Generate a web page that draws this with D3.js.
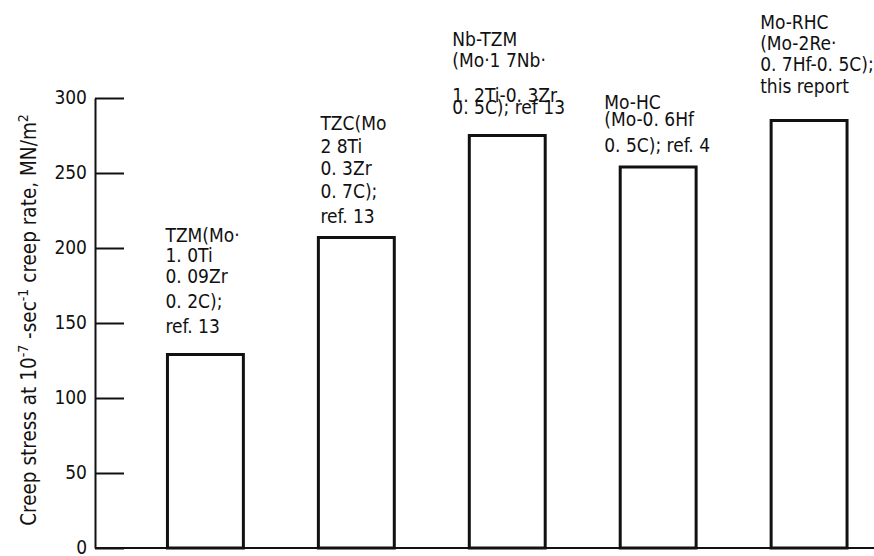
<!DOCTYPE html>
<html>
<head>
<meta charset="utf-8">
<script src="https://cdn.jsdelivr.net/npm/d3@7"></script>
<style>
  body { margin: 0; background: #fff; }
  text { font-family: "DejaVu Sans Condensed", "Liberation Sans Narrow", sans-serif; fill: #111; }
</style>
</head>
<body>
<script>
// alloys and creep stress (MN/m^2) at 10^-7 sec^-1
const alloys = ['TZM', 'TZC', 'Nb-TZM', 'Mo-HC', 'Mo-RHC'];
const stress = [129, 207, 275, 254, 285];
const yTicks = [0, 50, 100, 150, 200, 250, 300];
const labelText = [
  ['TZM(Mo·', '1. 0Ti', '0. 09Zr', '0. 2C);', 'ref. 13'],
  ['TZC(Mo', '2 8Ti', '0. 3Zr', '0. 7C);', 'ref. 13'],
  ['Nb-TZM', '(Mo·1 7Nb·', '1. 2Ti-0. 3Zr', '0. 5C); ref 13'],
  ['Mo-HC', '(Mo-0. 6Hf', '0. 5C); ref. 4'],
  ['Mo-RHC', '(Mo-2Re·', '0. 7Hf-0. 5C);', 'this report']
];

const width = 874;
const height = 556;

// label placement: dx from bar left, baseline offsets above bar top
const labelLayout = [
  { dx: -2, dy: [-113, -93, -72, -47, -22] },
  { dx: 2, dy: [-108, -85, -63, -40, -15] },
  { dx: -17, dy: [-90, -69, -34, -22] },
  { dx: -16, dy: [-58, -41, -15] },
  { dx: -11, dy: [-92, -71, -50, -28] }
];

const svg = d3.select('body')
  .append('svg')
  .attr('width', width)
  .attr('height', height);

const yScale = d3.scaleLinear()
  .domain([0, 300])
  .range([548, 98]);

const xScale = d3.scaleBand()
  .domain(alloys)
  .range([92, 92 + 151 * 5.5])
  .paddingInner(0.497)
  .paddingOuter(0.5);

// y axis, ticks pointing into the plot
const yAxis = d3.axisLeft(yScale)
  .tickValues(yTicks)
  .tickSizeInner(-29)
  .tickSizeOuter(0)
  .tickPadding(8);

const ga = svg.append('g')
  .attr('transform', 'translate(95,0)')
  .call(yAxis);
ga.select('.domain').attr('stroke', '#111').attr('stroke-width', 2);
ga.selectAll('.tick line').attr('stroke', '#111').attr('stroke-width', 2);
ga.selectAll('.tick text')
  .attr('fill', '#111')
  .attr('dy', '0.3em')
  .style('font-size', '19px')
  .style('font-family', '"DejaVu Sans Condensed", "Liberation Sans Narrow", sans-serif');

// baseline
svg.append('line')
  .attr('x1', 95).attr('x2', width)
  .attr('y1', yScale(0)).attr('y2', yScale(0))
  .attr('stroke', '#111').attr('stroke-width', 2);

// bars
svg.selectAll('rect.bar')
  .data(alloys)
  .enter()
  .append('rect')
  .attr('class', 'bar')
  .attr('x', d => xScale(d))
  .attr('y', (d, i) => yScale(stress[i]))
  .attr('width', xScale.bandwidth())
  .attr('height', (d, i) => yScale(0) - yScale(stress[i]))
  .style('fill', 'none')
  .style('stroke', '#111')
  .style('stroke-width', 3);

// bar labels
alloys.forEach((a, i) => {
  const g = svg.append('g')
    .attr('transform', `translate(${xScale(a) + labelLayout[i].dx},${yScale(stress[i])})`);
  g.selectAll('text')
    .data(labelText[i])
    .enter()
    .append('text')
    .attr('x', 0)
    .attr('y', (d, j) => labelLayout[i].dy[j])
    .style('font-size', '19px')
    .text(d => d);
});

// y title
const title = svg.append('text')
  .attr('transform', 'translate(36,320) rotate(-90)')
  .attr('text-anchor', 'middle')
  .style('font-size', '20.5px');
title.append('tspan').text('Creep stress at 10');
title.append('tspan').attr('dy', -8).style('font-size', '14px').text('-7');
title.append('tspan').attr('dy', 8).text(' -sec');
title.append('tspan').attr('dy', -8).style('font-size', '14px').text('-1');
title.append('tspan').attr('dy', 8).text(' creep rate,  MN/m');
title.append('tspan').attr('dy', -8).style('font-size', '14px').text('2');
</script>
</body>
</html>
